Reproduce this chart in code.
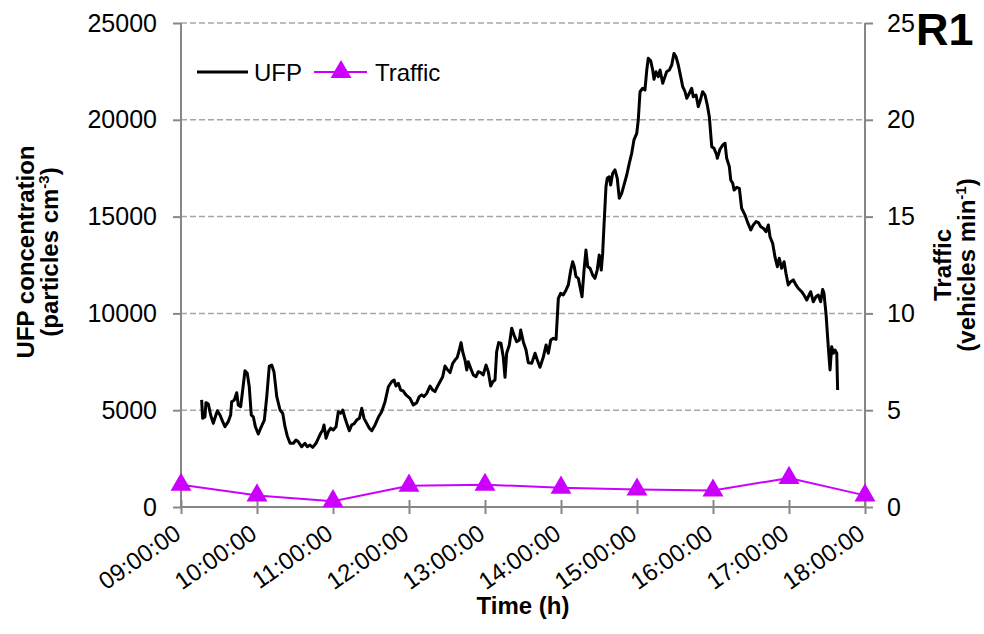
<!DOCTYPE html>
<html>
<head>
<meta charset="utf-8">
<script src="https://cdn.jsdelivr.net/npm/d3@7"></script>
<style>
    body { margin: 0; background: white; }
    text { font-family: 'Liberation Sans', Arial, sans-serif; fill: #000; }
</style>
</head>
<body>
<div id="chart"></div>
<script>
// UFP readings, minutes after 09:00
let ufpMinutes = [
    16.3,17.1,18.9,19.7,21.6,23.4,25.5,26.8,28.7,30.8,
    32.9,34.7,37.3,39.2,40.0,42.1,44.0,45.2,47.1,48.7,
    50.5,52.3,53.9,55.5,57.1,58.7,61.0,62.9,65.8,67.7,
    69.7,71.6,73.4,75.6,78.2,80.3,82.1,83.9,86.1,88.7,
    90.8,92.6,95.3,97.9,99.7,101.8,104.0,106.6,108.4,110.3,
    111.9,112.9,114.5,116.3,118.2,120.2,122.4,124.2,126.1,127.7,
    129.5,131.3,132.9,134.8,136.6,138.7,140.8,142.7,144.5,146.6,
    148.7,150.6,153.2,155.8,158.4,161.1,163.7,166.3,168.2,169.7,
    171.6,173.4,175.5,177.6,180.8,183.4,186.1,188.1,190.0,191.8,
    194.0,196.6,198.7,200.5,202.3,204.5,206.6,208.4,210.2,212.4,
    214.5,216.3,218.1,219.7,221.1,222.4,224.2,225.6,226.8,228.7,
    230.8,232.9,234.7,236.6,238.6,240.8,242.6,244.5,246.1,247.9,
    249.2,250.8,252.6,254.4,255.8,257.1,259.2,261.1,262.9,265.0,
    267.1,268.2,270.2,272.4,274.2,276.9,279.5,281.3,283.4,286.0,
    288.2,290.0,291.9,293.9,296.1,297.9,299.8,301.8,304.0,305.8,
    307.7,309.2,310.5,311.8,313.7,315.0,316.6,318.2,319.7,321.1,
    322.9,325.0,326.8,328.6,330.2,331.8,332.9,333.9,335.5,336.5,
    338.1,339.2,340.8,342.6,344.4,346.0,347.9,349.7,351.9,353.9,
    355.8,357.6,359.8,361.0,362.4,364.5,366.3,367.7,368.9,370.8,
    372.4,373.4,375.0,376.8,378.2,380.3,382.1,383.4,385.5,387.4,
    389.2,390.8,392.6,394.5,396.1,397.9,399.3,401.3,403.2,404.4,
    406.6,408.4,409.7,411.8,413.7,415.5,417.1,419.0,420.8,422.9,
    423.4,425.5,427.7,429.5,430.8,432.9,434.0,435.6,436.6,438.7,
    440.8,442.6,445.3,447.1,449.8,451.8,454.0,455.8,457.7,459.7,
    461.8,463.7,465.0,467.1,468.9,470.8,472.3,474.2,476.1,477.6,
    479.4,481.3,483.4,485.5,487.3,490.0,491.8,494.0,495.2,497.1,
    499.2,501.3,503.1,505.0,506.6,507.6,509.2,511.0,512.4,513.7,
    515.0,516.3,517.7,518.4
];
let ufpValues = [
    5530,4580,4650,5390,5320,4750,4320,4600,4970,4750,
    4410,4150,4410,4750,5440,5530,5900,5270,5180,6040,
    7040,6910,6210,4750,4660,4150,3770,4070,4490,5700,
    7280,7330,6990,5700,5010,4840,4150,3670,3290,3290,
    3460,3370,3110,3290,3110,3200,3080,3290,3550,3810,
    3980,4240,3550,3890,4070,3980,4150,4920,4840,5010,
    4580,4240,3940,4240,4290,4490,4580,5100,4580,4320,
    4070,3940,4240,4630,4920,5440,6210,6470,6560,6250,
    6390,6040,5990,5790,5610,5270,5390,5700,5790,5700,
    5870,6250,6040,5960,6210,6470,6730,7280,7110,6940,
    7420,7590,7730,8110,8490,8020,7590,7080,7500,7160,
    6820,6730,6990,6940,6820,7330,6990,6250,6470,6560,
    8020,8490,8460,7760,6700,7940,8370,9230,8880,8540,
    8630,9140,8540,8110,7450,7420,7940,7590,7220,7730,
    8370,7940,8630,8710,8660,10780,11040,10950,11210,11470,
    12240,12670,12410,11900,11810,11380,10860,12240,13270,12410,
    12330,11980,11810,12240,13020,12240,13100,14480,16540,16980,
    17060,16630,17240,17410,16980,15950,16200,16630,17150,17750,
    18270,18960,19300,19990,21450,21630,21540,22570,23180,23050,
    22570,22090,22480,22230,22570,21890,22230,22480,22570,22830,
    23430,23260,22830,22230,21710,21450,21110,21370,21630,21190,
    21280,20680,20940,21450,21280,20760,20160,18610,18530,18180,
    18010,18480,18700,18790,18010,17580,16890,16720,16370,16510,
    16460,15430,15080,14740,14310,14570,14740,14690,14480,14400,
    14220,14570,13960,13620,12930,12410,12850,12330,12670,12070,
    11470,11640,11730,11470,11300,11120,10950,10690,10860,11120,
    10600,10860,10950,10600,11240,11040,10000,8280,7080,8280,
    7940,8110,7940,6040
];

// traffic counts, one per hour
let trafficTimes = ['09:00','10:00','11:00','12:00','13:00','14:00','15:00','16:00','17:00','18:00'];
let trafficValues = [1.15, 0.6, 0.3, 1.1, 1.15, 1.0, 0.9, 0.85, 1.5, 0.6];

let ufpTicks = [0, 5000, 10000, 15000, 20000, 25000];
let trafficTicks = [0, 5, 10, 15, 20, 25];

let width = 984;
let height = 634;
let plotLeft = 181;
let plotRight = 865;
let plotTop = 23;
let plotBottom = 507;
let magenta = '#cc00ff';
let axisGrey = '#878787';

let parseTime = d3.timeParse('%H:%M');
let start = parseTime('09:00');

let svg = d3
    .select('#chart')
    .append('svg')
    .attr('width', width)
    .attr('height', height)
    .style('background', 'white');

let xScale = d3
    .scaleTime()
    .domain([start, parseTime('18:00')])
    .range([plotLeft, plotRight]);

let yScale = d3
    .scaleLinear()
    .domain([0, 25000])
    .range([plotBottom, plotTop]);

let y2Scale = d3
    .scaleLinear()
    .domain([0, 25])
    .range([plotBottom, plotTop]);

// dashed gridlines
svg
    .append('g')
    .selectAll('line')
    .data(ufpTicks.filter(d => d > 0))
    .enter()
    .append('line')
    .attr('x1', plotLeft)
    .attr('x2', plotRight)
    .attr('y1', d => yScale(d))
    .attr('y2', d => yScale(d))
    .attr('stroke', '#a6a6a6')
    .attr('stroke-width', 1.5)
    .attr('stroke-dasharray', '6,3');

let yAxis = d3
    .axisLeft(yScale)
    .tickValues(ufpTicks)
    .tickFormat(d3.format('d'))
    .tickSize(8)
    .tickPadding(16);
let y2Axis = d3
    .axisRight(y2Scale)
    .tickValues(trafficTicks)
    .tickFormat(d3.format('d'))
    .tickSize(8)
    .tickPadding(14);
let xAxis = d3
    .axisBottom(xScale)
    .ticks(d3.timeHour.every(1))
    .tickFormat(d3.timeFormat('%H:%M:%S'))
    .tickSize(7);

function styleAxis(g) {
    g.select('.domain').attr('stroke', axisGrey).attr('stroke-width', 2);
    g.selectAll('.tick line').attr('stroke', axisGrey).attr('stroke-width', 2);
    g.selectAll('text')
        .attr('font-size', 25)
        .attr('fill', '#000')
        .style('font-family', "'Liberation Sans', Arial, sans-serif");
}

svg
    .append('g')
    .attr('class', 'yAxis')
    .attr('transform', `translate(${plotLeft},0)`)
    .call(yAxis)
    .call(styleAxis)
    .call(g => g.select('.domain').attr('d', `M0,${plotTop}V${plotBottom}`));

svg
    .append('g')
    .attr('class', 'y2Axis')
    .attr('transform', `translate(${plotRight},0)`)
    .call(y2Axis)
    .call(styleAxis)
    .call(g => g.select('.domain').attr('d', `M0,${plotTop}V${plotBottom}`));

let xG = svg
    .append('g')
    .attr('class', 'xAxis')
    .attr('transform', `translate(0,${plotBottom})`)
    .call(xAxis)
    .call(styleAxis)
    .call(g => g.select('.domain').attr('d', `M${plotLeft},0H${plotRight}`));

xG.selectAll('.tick line').attr('y1', -7).attr('y2', 7);
xG.selectAll('.tick text')
    .attr('font-size', 24)
    .attr('text-anchor', 'end')
    .attr('y', 0)
    .attr('dy', 0)
    .attr('transform', 'translate(1,30) rotate(-35)');

// UFP line
let ufpData = ufpMinutes.map((m, i) => ({
    t: d3.timeSecond.offset(start, Math.round(m * 60)),
    v: ufpValues[i]
}));

let ufpLine = d3
    .line()
    .x(d => xScale(d.t))
    .y(d => yScale(d.v));

svg
    .append('path')
    .datum(ufpData)
    .attr('d', ufpLine)
    .attr('fill', 'none')
    .attr('stroke', '#000')
    .attr('stroke-width', 3)
    .attr('stroke-linejoin', 'round');

// traffic line with triangles
let trafficData = trafficTimes.map((t, i) => ({ t: parseTime(t), v: trafficValues[i] }));

let trafficLine = d3
    .line()
    .x(d => xScale(d.t))
    .y(d => y2Scale(d.v));

svg
    .append('path')
    .datum(trafficData)
    .attr('d', trafficLine)
    .attr('fill', 'none')
    .attr('stroke', magenta)
    .attr('stroke-width', 2);

let triangle = d3.symbol().type(d3.symbolTriangle).size(190);

svg
    .selectAll('path.tri')
    .data(trafficData)
    .enter()
    .append('path')
    .attr('class', 'tri')
    .attr('d', triangle)
    .attr('transform', d => `translate(${xScale(d.t)},${y2Scale(d.v)})`)
    .attr('fill', magenta);

// legend
let legend = svg.append('g').attr('transform', 'translate(0,72)');
legend.append('line')
    .attr('x1', 197).attr('x2', 248)
    .attr('stroke', '#000').attr('stroke-width', 3);
legend.append('text')
    .text('UFP')
    .attr('x', 254).attr('y', 8.5)
    .attr('font-size', 24);
legend.append('line')
    .attr('x1', 314).attr('x2', 367)
    .attr('stroke', magenta).attr('stroke-width', 2);
legend.append('path')
    .attr('d', triangle)
    .attr('transform', 'translate(341,0)')
    .attr('fill', magenta);
legend.append('text')
    .text('Traffic')
    .attr('x', 375).attr('y', 8.5)
    .attr('font-size', 24);

// axis titles
let leftTitle = svg
    .append('text')
    .attr('transform', 'translate(34,252) rotate(-90)')
    .attr('text-anchor', 'middle')
    .attr('font-size', 24)
    .attr('font-weight', 'bold');
leftTitle.append('tspan').attr('x', 0).attr('y', 0).text('UFP concentration');
let leftSub = leftTitle.append('tspan').attr('x', 0).attr('y', 24);
leftSub.append('tspan').text('(particles cm');
leftSub.append('tspan').attr('dy', -9).attr('font-size', 15).text('-3');
leftSub.append('tspan').attr('dy', 9).text(')');

let rightTitle = svg
    .append('text')
    .attr('transform', 'translate(951,265) rotate(-90)')
    .attr('text-anchor', 'middle')
    .attr('font-size', 24)
    .attr('font-weight', 'bold');
rightTitle.append('tspan').attr('x', 0).attr('y', 0).text('Traffic');
let rightSub = rightTitle.append('tspan').attr('x', 0).attr('y', 24);
rightSub.append('tspan').text('(vehicles min');
rightSub.append('tspan').attr('dy', -9).attr('font-size', 15).text('-1');
rightSub.append('tspan').attr('dy', 9).text(')');

svg
    .append('text')
    .text('Time (h)')
    .attr('x', 523)
    .attr('y', 614)
    .attr('text-anchor', 'middle')
    .attr('font-size', 24)
    .attr('font-weight', 'bold');

svg
    .append('text')
    .text('R1')
    .attr('x', 916)
    .attr('y', 45)
    .attr('font-size', 45)
    .attr('font-weight', 'bold');
</script>
</body>
</html>
